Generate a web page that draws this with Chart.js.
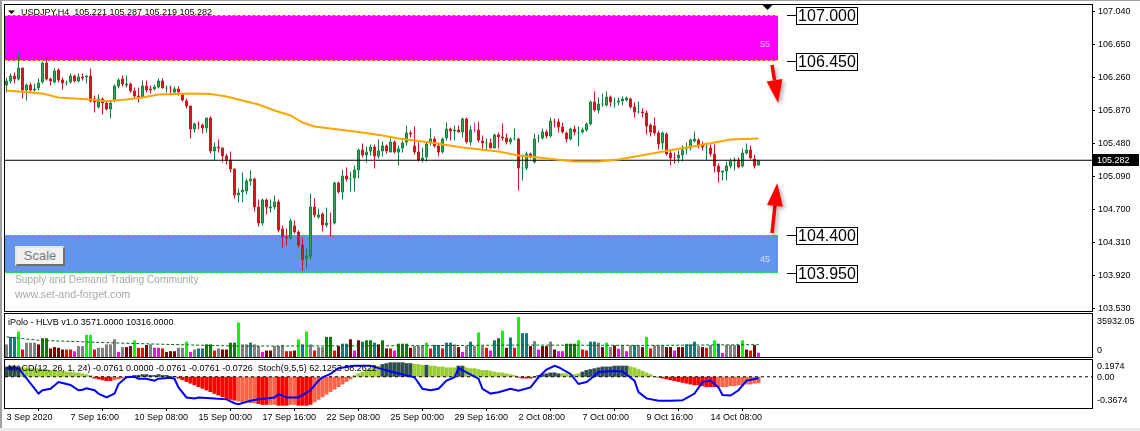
<!DOCTYPE html>
<html>
<head>
<meta charset="utf-8">
<script src="https://cdn.jsdelivr.net/npm/chart.js@4.4.1/dist/chart.umd.min.js"></script>
<style>
html,body{margin:0;padding:0;background:#fff;}
body{width:1140px;height:431px;overflow:hidden;position:relative;font-family:"Liberation Sans",Arial,sans-serif;}
canvas{position:absolute;left:0;display:block;}
#frameLeft{position:absolute;left:0;top:0;width:2px;height:431px;background:#a0a0a0;}
#frameTop{position:absolute;left:0;top:0;width:1140px;height:1px;background:#a0a0a0;}
#frameBottom{position:absolute;left:0;top:428px;width:1140px;height:3px;background:#ececec;}
#scaleBtn{position:absolute;left:15px;top:246px;width:46px;height:16px;background:#f0f0f0;border:2px solid;border-color:#e6e6e6 #6e6e6e #6e6e6e #e6e6e6;color:#7a7a7a;font-size:13px;line-height:16px;text-align:center;}
.wm{position:absolute;left:15px;color:#a8a8a8;white-space:nowrap;line-height:12px;}
</style>
</head>
<body>
<canvas id="cMain" width="1140" height="312" style="top:0"></canvas>
<canvas id="cVol" width="1140" height="46" style="top:312px"></canvas>
<canvas id="cMacd" width="1140" height="73" style="top:358px"></canvas>
<div id="frameLeft"></div><div id="frameTop"></div><div id="frameBottom"></div>
<div id="scaleBtn">Scale</div>
<div class="wm" style="top:274px;font-size:10.2px">Supply and Demand Trading Community</div>
<div class="wm" style="top:288px;font-size:10.7px">www.set-and-forget.com</div>
<script>
// ---------------- DATA ----------------
const symbolName = 'USDJPY,H4';
const opens = [106.165,106.213,106.284,106.236,106.378,106.106,106.177,106.106,106.130,106.201,
106.437,106.248,106.201,106.355,106.236,106.189,106.201,106.284,106.213,106.272,
106.260,106.284,106.012,105.905,106.012,105.965,105.882,105.988,106.154,106.248,
106.165,106.189,106.106,106.047,106.024,106.165,106.130,106.118,106.142,106.225,
106.130,106.142,106.083,106.130,106.059,105.988,105.929,105.645,105.716,105.705,
105.657,105.787,105.385,105.445,105.433,105.338,105.291,105.185,104.865,104.901,
104.913,105.031,105.066,104.735,104.535,104.818,104.712,104.724,104.795,104.476,
104.381,104.357,104.511,104.440,104.286,104.121,104.145,104.735,104.605,104.653,
104.511,104.546,104.535,105.019,104.901,105.102,105.054,105.066,105.161,105.409,
105.338,105.385,105.445,105.326,105.385,105.456,105.374,105.504,105.374,105.421,
105.492,105.610,105.456,105.385,105.279,105.315,105.480,105.539,105.456,105.374,
105.539,105.657,105.622,105.645,105.610,105.775,105.492,105.634,105.645,105.515,
105.480,105.492,105.421,105.586,105.563,105.551,105.492,105.527,105.539,105.185,
105.185,105.362,105.255,105.539,105.539,105.622,105.563,105.740,105.740,105.681,
105.610,105.527,105.657,105.598,105.610,105.634,105.705,105.976,105.870,105.941,
105.929,106.035,105.953,105.965,105.976,105.988,106.012,105.917,105.846,105.858,
105.846,105.705,105.693,105.610,105.480,105.598,105.374,105.315,105.303,105.338,
105.409,105.421,105.504,105.527,105.468,105.433,105.433,105.362,105.220,105.137,
105.149,105.208,105.267,105.291,105.208,105.362,105.409,105.303,105.221];
const highs = [106.260,106.307,106.319,106.544,106.378,106.189,106.201,106.189,106.248,106.449,
106.496,106.260,106.366,106.366,106.260,106.225,106.307,106.295,106.307,106.307,
106.284,106.366,106.047,106.059,106.024,105.988,105.988,106.177,106.248,106.284,
106.284,106.201,106.142,106.142,106.225,106.225,106.165,106.177,106.248,106.248,
106.165,106.165,106.154,106.154,106.071,106.012,105.929,105.728,105.740,105.716,
105.787,105.799,105.492,105.527,105.433,105.362,105.385,105.185,104.948,105.137,
105.066,105.161,105.078,104.818,104.830,104.830,104.818,104.865,104.818,104.511,
104.476,104.594,104.570,104.452,104.369,104.239,104.889,104.830,104.712,104.665,
104.724,104.665,105.031,105.031,105.173,105.196,105.149,105.220,105.421,105.480,
105.445,105.468,105.468,105.527,105.504,105.468,105.539,105.515,105.456,105.515,
105.693,105.634,105.681,105.492,105.433,105.492,105.657,105.563,105.492,105.551,
105.728,105.669,105.693,105.693,105.787,105.787,105.693,105.728,105.740,105.575,
105.539,105.539,105.598,105.610,105.716,105.598,105.551,105.657,105.551,105.350,
105.385,105.374,105.598,105.586,105.657,105.645,105.787,105.775,105.775,105.728,
105.622,105.669,105.693,105.681,105.669,105.728,105.988,106.095,106.024,106.071,
106.095,106.047,106.024,106.024,106.035,106.035,106.024,105.965,105.976,105.894,
105.870,105.716,105.787,105.634,105.622,105.610,105.397,105.374,105.397,105.456,
105.492,105.539,105.622,105.539,105.504,105.492,105.468,105.468,105.244,105.161,
105.267,105.303,105.315,105.315,105.421,105.480,105.456,105.350,105.287];
const lows = [106.083,106.189,106.189,106.225,106.012,105.988,106.095,106.095,106.106,106.189,
106.225,106.165,106.189,106.201,106.118,106.165,106.189,106.201,106.201,106.225,
106.189,105.965,105.846,105.894,105.823,105.870,105.775,105.965,106.130,106.154,
106.142,106.083,106.012,105.965,106.012,106.083,106.071,106.106,106.130,106.130,
106.083,106.071,106.071,106.047,105.976,105.894,105.539,105.610,105.645,105.598,
105.610,105.362,105.279,105.374,105.255,105.232,105.137,104.830,104.783,104.783,
104.877,104.984,104.676,104.499,104.511,104.641,104.665,104.700,104.428,104.251,
104.275,104.345,104.416,104.251,103.979,104.003,104.109,104.605,104.594,104.440,
104.487,104.381,104.523,104.889,104.818,105.031,104.913,104.913,105.066,105.315,
105.255,105.338,105.185,105.303,105.326,105.362,105.374,105.362,105.220,105.374,
105.456,105.551,105.350,105.267,105.255,105.267,105.456,105.433,105.326,105.362,
105.515,105.515,105.515,105.610,105.551,105.480,105.456,105.610,105.492,105.421,
105.409,105.421,105.421,105.421,105.515,105.468,105.468,105.515,104.925,105.043,
105.161,105.303,105.244,105.492,105.527,105.539,105.551,105.669,105.610,105.598,
105.492,105.515,105.575,105.445,105.598,105.622,105.693,105.858,105.835,105.917,
105.917,105.917,105.905,105.929,105.929,105.976,105.894,105.787,105.835,105.787,
105.586,105.563,105.575,105.409,105.409,105.338,105.220,105.244,105.255,105.267,
105.350,105.397,105.492,105.421,105.397,105.279,105.326,105.137,105.019,105.043,
105.043,105.185,105.161,105.185,105.196,105.350,105.291,105.185,105.219];
const closes = [106.225,106.284,106.236,106.378,106.106,106.177,106.106,106.130,106.201,106.437,
106.236,106.213,106.343,106.225,106.189,106.201,106.284,106.213,106.272,106.248,
106.284,105.976,105.965,106.012,105.953,105.882,105.965,106.165,106.236,106.177,
106.189,106.095,106.035,106.024,106.165,106.106,106.106,106.154,106.225,106.130,
106.142,106.130,106.130,106.083,105.988,105.917,105.645,105.716,105.705,105.657,
105.787,105.385,105.445,105.421,105.326,105.279,105.173,104.865,104.901,104.936,
105.043,105.066,104.724,104.535,104.818,104.724,104.735,104.795,104.452,104.369,
104.357,104.570,104.428,104.275,104.097,104.156,104.735,104.629,104.641,104.511,
104.546,104.535,105.019,104.901,105.102,105.054,105.066,105.173,105.409,105.338,
105.385,105.445,105.326,105.397,105.456,105.385,105.504,105.374,105.421,105.492,
105.610,105.586,105.374,105.279,105.315,105.480,105.539,105.445,105.374,105.539,
105.657,105.622,105.645,105.610,105.775,105.492,105.645,105.634,105.515,105.480,
105.492,105.421,105.586,105.551,105.539,105.492,105.539,105.539,105.185,105.196,
105.362,105.326,105.539,105.551,105.622,105.563,105.752,105.728,105.669,105.610,
105.527,105.657,105.610,105.610,105.645,105.716,105.976,105.870,105.953,105.953,
106.035,105.965,105.965,105.988,106.012,106.024,105.905,105.846,105.858,105.835,
105.681,105.610,105.598,105.468,105.610,105.350,105.303,105.303,105.350,105.409,
105.421,105.527,105.539,105.456,105.433,105.445,105.350,105.208,105.137,105.161,
105.220,105.279,105.291,105.196,105.374,105.409,105.303,105.208,105.282];

// moving average (read at sample bars)
const maBars = [0,9,13,21,25,30,34,38,46,51,55,58,63,67,71,74,77,81,85,89,94,98,106,114,123,128,133,142,148,153,160,167,173,177,181,188];
const maValues = [106.106,106.071,106.024,106.000,105.980,106.000,106.024,106.059,106.071,106.065,106.035,106.000,105.941,105.870,105.811,105.728,105.681,105.657,105.634,105.610,105.575,105.539,105.492,105.433,105.385,105.338,105.315,105.267,105.267,105.291,105.350,105.409,105.456,105.492,105.527,105.539];

// price axis ticks
const priceTicks = [107.040,106.650,106.260,105.870,105.480,105.090,104.700,104.310,103.920,103.530];

// time axis
const timeLabelBars = [0,16,32,48,64,80,96,112,128,144,160,176];
const timeLabels = ['3 Sep 2020','7 Sep 16:00','10 Sep 08:00','15 Sep 00:00','17 Sep 16:00','22 Sep 08:00','25 Sep 00:00','29 Sep 16:00','2 Oct 08:00','7 Oct 00:00','9 Oct 16:00','14 Oct 08:00'];

// supply / demand zones and levels
const zoneTops = [107.000, 104.400];
const zoneBottoms = [106.450, 103.950];
const zoneLabels = ['55', '45'];
const zoneEndBar = 192.75;
const levelPrices = [107.000, 106.450, 104.400, 103.950];
const arrowFromBar = [191.4, 191.4];
const arrowFromPrice = [106.408, 104.423];
const arrowToBar = [192.9, 192.7];
const arrowToPrice = [105.959, 105.013];
const shiftBar = 190;

// volume (iPolo HLVB)
const volumes = [10545,16815,16815,21375,6270,11970,11970,11970,10545,15675,
15675,7125,8265,7695,6270,6270,6270,4845,9120,9120,
18525,18525,6270,7695,7695,10545,10545,14820,4275,8265,
8265,9120,13965,7695,7695,9975,10545,7695,7695,7125,
4275,4845,4845,7695,7695,12825,4275,6270,7125,7125,
10545,10545,5415,7125,6270,6270,11970,11970,28785,10545,
10545,11970,10545,9120,4275,5415,5415,9120,9120,9975,
4845,4845,5415,14820,10545,21375,10545,5415,8265,8265,
16815,16815,5415,9120,11115,11115,14820,5415,13965,12825,
13965,13965,11970,10545,13965,7125,7125,5415,11115,11115,
11115,7695,9120,9120,9120,11970,7125,9975,9975,7125,
11970,11970,10545,8265,4275,9120,12825,9120,20520,9120,
7695,5415,13965,15675,21945,7695,16245,7695,33345,19950,
19950,9120,13395,6270,9120,9120,12825,6270,4845,4845,
11115,11115,11115,13965,6270,5415,12825,12825,11970,8265,
11970,8265,9690,6840,9975,4845,9690,9975,9690,8265,
16815,7125,9690,9690,9690,8265,8265,5415,8265,8265,
10545,10545,12825,9120,8265,7695,9975,13965,11115,3420,
9975,9975,9975,9975,13965,6270,5415,9975,3571];
const volumeClass = ['gy','tl','tl','lm','rd','gy','gy','gy','dr','gn',
'gn','dr','dr','dr','dr','rd','rd','mg','gy','gy',
'lm','lm','rd','gy','gy','gy','gy','gy','mg','gy',
'dr','dr','lm','rd','rd','dr','gy','mg','mg','rd',
'dr','dr','dr','gy','gy','lm','mg','gy','tl','tl',
'gn','gn','rd','gy','dr','dr','gn','gn','lm','gy',
'gy','tl','gy','gy','mg','dr','dr','gy','gy','gy',
'rd','rd','dr','lm','tl','lm','gy','rd','gy','gy',
'gn','gn','rd','dr','tl','tl','dr','mg','dr','tl',
'gn','gn','tl','dr','gn','dr','rd','mg','gn','gn',
'gn','dr','gy','gy','gy','lm','rd','tl','tl','rd',
'tl','tl','gy','dr','mg','gy','tl','gy','lm','gy',
'rd','mg','tl','gn','lm','dr','tl','rd','lm','tl',
'tl','dr','gy','mg','dr','dr','gy','dr','mg','mg',
'gn','gn','gn','lm','rd','rd','tl','tl','gy','dr',
'lm','gy','dr','mg','gy','mg','gy','tl','gy','dr',
'lm','rd','gy','gy','gy','dr','dr','mg','dr','dr',
'tl','tl','tl','gy','dr','rd','gy','lm','tl','mg',
'gy','gy','gy','dr','lm','dr','rd','dr','mg'];
const volumeMax = 35932.05;
const volAvgBars = [0,8,25,40,58,98,130,160,188];
const volAvgValues = [16815,13965,11970,10545,9120,9405,9975,9690,10316];

// MACD histogram + Stoch
const macdHist = [0.12,0.13,0.13,0.12,
0.11,0.11,0.10,0.10,0.10,0.09,0.09,0.08,0.08,
0.07,0.07,0.06,0.06,0.05,0.05,0.04,0.03,0.02,
-0.02,-0.03,-0.04,-0.05,-0.05,
-0.04,-0.03,-0.02,-0.01,
0.01,0.02,0.02,0.03,0.03,0.02,0.02,0.03,0.02,0.02,0.01,0.01,
-0.02,-0.04,-0.06,-0.08,-0.10,-0.12,-0.14,-0.16,-0.18,-0.20,-0.22,-0.24,-0.26,-0.27,-0.28,
-0.29,-0.30,-0.30,-0.31,-0.31,
-0.32,-0.33,-0.33,
-0.33,-0.33,
-0.34,-0.34,-0.34,
-0.33,-0.33,
-0.34,-0.34,-0.34,-0.33,
-0.30,-0.27,-0.24,-0.21,-0.18,-0.15,-0.12,-0.09,-0.06,-0.03,
0.02,0.04,0.06,0.08,0.10,0.12,0.13,
0.15,0.16,0.17,0.17,0.17,0.17,0.16,0.16,
0.15,0.15,0.14,
0.14,
0.13,0.13,0.12,0.12,0.11,0.11,0.11,
0.13,0.13,
0.11,0.10,0.10,0.09,0.08,0.08,0.07,0.06,0.05,0.05,0.04,0.03,0.02,
-0.01,-0.02,-0.02,-0.02,-0.01,
0.02,0.03,0.04,0.05,0.05,0.04,
0.04,0.04,0.03,0.03,0.04,
0.06,0.08,0.09,0.10,0.11,0.12,0.12,0.12,0.13,0.13,0.13,0.13,
0.12,0.11,0.09,0.07,0.05,0.03,0.01,
-0.01,-0.02,-0.03,-0.04,-0.05,-0.06,-0.07,-0.08,-0.09,-0.10,-0.10,-0.11,-0.12,-0.12,-0.12,
-0.12,-0.12,-0.12,-0.11,-0.11,-0.10,-0.10,-0.09,-0.09,-0.08,-0.0761];
const macdClassRuns = [['ds',4],['yg',18],['rd',5],['tm',4],['ds',12],['rd',15],['tm',5],['rd',3],['tm',2],['rd',3],['tm',2],['rd',4],['tm',10],['yg',7],['ds',8],['yg',3],['ds',1],['yg',7],['ds',2],['yg',13],['rd',5],['ds',6],['yg',5],['ds',12],['yg',7],['rd',15],['tm',11]];
const macdMax = 0.1974, macdMin = -0.3674;
const stochBars = [0,3,8,9,11,13,14,16,18,19,20,22,23,25,27,28,30,32,33,35,37,38,41,42,43,45,47,48,52,55,57,58,61,63,65,67,68,70,73,76,78,79,81,83,87,91,93,96,102,104,106,108,110,112,113,115,118,119,121,123,126,128,131,133,135,137,138,141,143,145,147,148,152,154,157,158,160,163,166,169,172,174,176,178,179,181,183,185,188];
const stochValues = [83,83,30,37,40,54,52,48,37,38,41,37,30,22,30,50,64,65,61,61,57,61,63,61,43,22,20,22,20,18,10,8,15,18,20,22,29,22,22,37,57,64,71,83,88,88,83,76,64,40,37,40,57,64,83,74,61,40,30,33,40,36,43,64,80,88,85,71,50,54,67,75,77,76,57,33,20,15,15,16,30,54,57,43,27,26,37,57,62];
const macdHeader = 'MACD(12, 26, 1, 24) -0.0761 0.0000 -0.0761 -0.0761 -0.0726  Stoch(9,5,5) 62.1253 58.2622';
const volHeaderName = 'iPolo - HLVB v1.0';

// ---------------- STYLE ----------------
const FONT = '"Liberation Sans", Arial, sans-serif';
const X_MIN = -0.375, X_MAX = 271.375, AXIS_W = 48;
const P_MAX = 107.117, P_MIN = 103.5006;
const volPalette = {gy:'#808080', tl:'#008080', lm:'#00FF00', gn:'#008000', dr:'#800000', rd:'#FF0000', mg:'#FF00FF'};
const macdPalette = {ds:'#2F4F4F', yg:'#9ACD32', rd:'#FF0000', tm:'#FF6347'};
const zoneFills = ['#FF00FF', '#6495ED'];
const zoneEdges = ['#FFD700', '#00FF00'];
const BULL = '#32A85A', BULL_EDGE = '#12803A', BEAR = '#D2161E', DOJI = '#FF3399';

const n = closes.length;
const lastClose = closes[n - 1];
function kind(i){ return closes[i] > opens[i] ? 'up' : (closes[i] < opens[i] ? 'dn' : 'dj'); }
const macdClass = [];
macdClassRuns.forEach(([k, c]) => { for (let j = 0; j < c; j++) macdClass.push(k); });

Chart.defaults.font.family = FONT;

function borderRect(chart){
  const {ctx, chartArea:a} = chart;
  ctx.save(); ctx.strokeStyle = '#000'; ctx.lineWidth = 1;
  ctx.strokeRect(a.left - 0.5, a.top - 0.5, a.right - a.left + 1, a.bottom - a.top + 1);
  ctx.restore();
}
function yAxisFit(s){ s.width = AXIS_W; s.paddingTop = 0; s.paddingBottom = 0; }
function drawArrow(ctx, x1, y1, x2, y2){
  const ang = Math.atan2(y2 - y1, x2 - x1), hl = 23, hw = 8;
  const bx = x2 - hl * Math.cos(ang), by = y2 - hl * Math.sin(ang);
  ctx.save();
  ctx.shadowColor = 'rgba(0,0,0,0.35)'; ctx.shadowBlur = 4; ctx.shadowOffsetX = 2; ctx.shadowOffsetY = 2;
  ctx.strokeStyle = '#FF0000'; ctx.lineWidth = 3.5;
  ctx.beginPath(); ctx.moveTo(x1, y1); ctx.lineTo(bx, by); ctx.stroke();
  ctx.fillStyle = '#FF0000';
  ctx.beginPath(); ctx.moveTo(x2, y2);
  ctx.lineTo(bx + hw * Math.sin(ang), by - hw * Math.cos(ang));
  ctx.lineTo(bx - hw * Math.sin(ang), by + hw * Math.cos(ang));
  ctx.closePath(); ctx.fill();
  ctx.restore();
}

// ---------------- MAIN PRICE PANEL ----------------
const mainDecor = {
  id: 'mainDecor',
  beforeDatasetsDraw(chart){
    const {ctx, chartArea:a, scales:{x, y}} = chart;
    const xr = Math.round(x.getPixelForValue(zoneEndBar));
    ctx.save();
    for (let k = 0; k < zoneTops.length; k++){
      const yt = Math.round(y.getPixelForValue(zoneTops[k]));
      const yb = Math.round(y.getPixelForValue(zoneBottoms[k]));
      ctx.fillStyle = zoneFills[k];
      ctx.fillRect(a.left, yt, xr - a.left, yb - yt);
      ctx.strokeStyle = zoneEdges[k]; ctx.lineWidth = 1; ctx.setLineDash([3, 2]);
      ctx.beginPath();
      ctx.moveTo(a.left, yt + 0.5); ctx.lineTo(xr, yt + 0.5);
      ctx.moveTo(a.left, yb - 0.5); ctx.lineTo(xr, yb - 0.5);
      ctx.stroke(); ctx.setLineDash([]);
      ctx.fillStyle = 'rgba(255,255,255,0.72)'; ctx.font = '9px ' + FONT;
      ctx.textAlign = 'right'; ctx.textBaseline = 'middle';
      ctx.fillText(zoneLabels[k], xr - 8, yt + (yb - yt) * 0.65);
    }
    ctx.restore();
  },
  afterDraw(chart){
    const {ctx, chartArea:a, scales:{x, y}} = chart;
    borderRect(chart);
    ctx.save();
    // header
    ctx.fillStyle = '#000';
    ctx.beginPath(); ctx.moveTo(a.left + 3, a.top + 5.5); ctx.lineTo(a.left + 10, a.top + 5.5); ctx.lineTo(a.left + 6.5, a.top + 9); ctx.closePath(); ctx.fill();
    ctx.font = '9px ' + FONT; ctx.textAlign = 'left'; ctx.textBaseline = 'middle';
    ctx.fillText(symbolName + '  ' + opens[n-1].toFixed(3) + ' ' + highs[n-1].toFixed(3) + ' ' + lows[n-1].toFixed(3) + ' ' + closes[n-1].toFixed(3), a.left + 16, a.top + 7.5);
    // chart shift marker
    const xs = Math.round(x.getPixelForValue(shiftBar)) + 0.5;
    ctx.beginPath(); ctx.moveTo(xs - 5, a.top); ctx.lineTo(xs + 5, a.top); ctx.lineTo(xs, a.top + 5); ctx.closePath(); ctx.fill();
    // level labels
    const xr = Math.round(x.getPixelForValue(zoneEndBar));
    levelPrices.forEach(p => {
      const yy = Math.round(y.getPixelForValue(p)) + 0.5;
      ctx.strokeStyle = '#000'; ctx.lineWidth = 1;
      ctx.beginPath(); ctx.moveTo(xr + 9, yy); ctx.lineTo(xr + 19, yy); ctx.stroke();
      const bx = xr + 18.5, bw = 61, bh = 17;
      ctx.fillStyle = '#fff'; ctx.fillRect(bx, yy - 8, bw, bh);
      ctx.strokeRect(bx, yy - 8, bw, bh);
      ctx.fillStyle = '#000'; ctx.font = '16px ' + FONT; ctx.textAlign = 'center'; ctx.textBaseline = 'middle';
      ctx.fillText(p.toFixed(3), bx + bw / 2, yy + 1);
    });
    // arrows
    for (let k = 0; k < arrowFromBar.length; k++){
      drawArrow(ctx, x.getPixelForValue(arrowFromBar[k]), y.getPixelForValue(arrowFromPrice[k]),
                x.getPixelForValue(arrowToBar[k]), y.getPixelForValue(arrowToPrice[k]));
    }
    // current price label on axis
    const yc = Math.round(y.getPixelForValue(lastClose));
    ctx.fillStyle = '#000'; ctx.fillRect(a.right + 1, yc - 6, 46, 12);
    ctx.fillStyle = '#fff'; ctx.font = '9px ' + FONT; ctx.textAlign = 'left'; ctx.textBaseline = 'middle';
    ctx.fillText(lastClose.toFixed(3), a.right + 5, yc + 0.5);
    ctx.restore();
  }
};

new Chart(document.getElementById('cMain'), {
  type: 'bar',
  data: {
    datasets: [
      {type:'line', label:'MA', data: maBars.map((b, i) => ({x:b, y:maValues[i]})), borderColor:'#FFA500', borderWidth:2, pointRadius:0, fill:false, tension:0, order:0},
      {type:'line', label:'Bid', data: [{x:X_MIN, y:lastClose}, {x:X_MAX, y:lastClose}], borderColor:'#000', borderWidth:1, pointRadius:0, fill:false, order:1},
      {type:'bar', label:'Body', data: opens.map((o, i) => ({x:i, y:[o, closes[i]]})),
        backgroundColor: c => { const k = kind(c.dataIndex); return k === 'up' ? BULL : (k === 'dn' ? BEAR : DOJI); },
        borderColor: c => { const k = kind(c.dataIndex); return k === 'up' ? BULL_EDGE : (k === 'dn' ? BEAR : DOJI); },
        borderWidth:1, borderSkipped:false, barThickness:3, minBarLength:1, grouped:false, inflateAmount:0, order:2},
      {type:'bar', label:'Wick', data: highs.map((h, i) => ({x:i, y:[lows[i], h]})),
        backgroundColor: c => { const k = kind(c.dataIndex); return k === 'up' ? BULL_EDGE : (k === 'dn' ? BEAR : DOJI); },
        borderWidth:0, barThickness:1, grouped:false, inflateAmount:0, order:3}
    ]
  },
  options: {
    responsive:false, maintainAspectRatio:false, animation:false, devicePixelRatio:1,
    layout:{padding:{left:5, top:5, right:0, bottom:1}},
    plugins:{legend:{display:false}, tooltip:{enabled:false}},
    scales:{
      x:{type:'linear', min:X_MIN, max:X_MAX, offset:false, display:false},
      y:{position:'right', min:P_MIN, max:P_MAX, afterFit:yAxisFit,
         afterBuildTicks: s => { s.ticks = priceTicks.map(v => ({value:v})); },
         ticks:{callback: v => Number(v).toFixed(3), font:{size:9, family:FONT}, color:'#000', padding:3, autoSkip:false},
         grid:{drawOnChartArea:false, color:'#000', tickLength:3}, border:{display:false}}
    }
  },
  plugins:[mainDecor]
});

// ---------------- VOLUME PANEL ----------------
const volDecor = {
  id:'volDecor',
  afterDraw(chart){
    const {ctx, chartArea:a} = chart;
    borderRect(chart);
    ctx.save();
    ctx.fillStyle = '#000'; ctx.font = '9px ' + FONT; ctx.textAlign = 'left'; ctx.textBaseline = 'middle';
    ctx.fillText(volHeaderName + ' ' + volumes[n-1].toFixed(4) + ' ' + volAvgValues[volAvgValues.length-1].toFixed(4), a.left + 3, a.top + 9);
    ctx.fillText(volumeMax.toFixed(2), a.right + 5, a.top + 8);
    ctx.fillText('0', a.right + 5, a.bottom - 6);
    ctx.restore();
  }
};
new Chart(document.getElementById('cVol'), {
  type:'bar',
  data:{
    datasets:[
      {type:'line', data: volAvgBars.map((b, i) => ({x:b, y:volAvgValues[i]})), borderColor:'#006400', borderWidth:1, borderDash:[3,2], pointRadius:0, fill:false, order:0},
      {type:'bar', data: volumes.map((v, i) => ({x:i, y:v})), backgroundColor: volumeClass.map(k => volPalette[k]), borderWidth:0, barThickness:3, grouped:false, inflateAmount:0, order:1}
    ]
  },
  options:{
    responsive:false, maintainAspectRatio:false, animation:false, devicePixelRatio:1,
    layout:{padding:{left:5, top:2, right:0, bottom:1}},
    plugins:{legend:{display:false}, tooltip:{enabled:false}},
    scales:{
      x:{type:'linear', min:X_MIN, max:X_MAX, offset:false, display:false},
      y:{position:'right', min:0, max:volumeMax, afterFit:yAxisFit, ticks:{display:false}, grid:{display:false}, border:{display:false}}
    }
  },
  plugins:[volDecor]
});

// ---------------- MACD / STOCH PANEL ----------------
const macdDecor = {
  id:'macdDecor',
  afterDatasetsDraw(chart){
    const {ctx, chartArea:a} = chart;
    ctx.save();
    ctx.fillStyle = '#000'; ctx.font = '9px ' + FONT; ctx.textAlign = 'left'; ctx.textBaseline = 'middle';
    ctx.fillText(macdHeader, a.left + 3, a.top + 9);
    ctx.restore();
  },
  afterDraw(chart){
    const {ctx, chartArea:a, scales:{y}} = chart;
    borderRect(chart);
    ctx.save();
    ctx.fillStyle = '#000'; ctx.font = '9px ' + FONT; ctx.textAlign = 'left'; ctx.textBaseline = 'middle';
    ctx.fillText(macdMax.toFixed(4), a.right + 5, a.top + 6.5);
    ctx.fillText('0.00', a.right + 5, y.getPixelForValue(0) + 0.5);
    ctx.fillText(macdMin.toFixed(4), a.right + 5, a.bottom - 7);
    ctx.restore();
  }
};
new Chart(document.getElementById('cMacd'), {
  type:'bar',
  data:{
    datasets:[
      {type:'line', data: stochBars.map((b, i) => ({x:b, y:stochValues[i]})), yAxisID:'ys', borderColor:'#0000FF', borderWidth:2, pointRadius:0, fill:false, tension:0, order:0},
      {type:'line', data: [{x:X_MIN, y:0}, {x:X_MAX, y:0}], yAxisID:'y', borderColor:'#000', borderWidth:1, borderDash:[3,3], pointRadius:0, fill:false, order:1},
      {type:'bar', data: macdHist.map((v, i) => ({x:i, y:v})), yAxisID:'y', backgroundColor: macdClass.map(k => macdPalette[k]), borderWidth:0, barThickness:4, grouped:false, inflateAmount:0, order:2}
    ]
  },
  options:{
    responsive:false, maintainAspectRatio:false, animation:false, devicePixelRatio:1,
    layout:{padding:{left:5, top:2, right:0, bottom:0}},
    plugins:{legend:{display:false}, tooltip:{enabled:false}},
    scales:{
      x:{type:'linear', min:X_MIN, max:X_MAX, offset:false, position:'bottom',
         afterBuildTicks: s => { s.ticks = timeLabelBars.map(v => ({value:v})); },
         afterFit: s => { s.height = 23; s.paddingLeft = 0; s.paddingRight = 0; },
         ticks:{callback:(v, i) => timeLabels[i], align:'start', autoSkip:false, maxRotation:0, minRotation:0, font:{size:9, family:FONT}, color:'#000', padding:1},
         grid:{drawOnChartArea:false, color:'#000', tickLength:3}, border:{display:false}},
      y:{position:'right', min:macdMin, max:macdMax, afterFit:yAxisFit, ticks:{display:false}, grid:{display:false}, border:{display:false}},
      ys:{display:false, min:0, max:100}
    }
  },
  plugins:[macdDecor]
});
</script>
</body>
</html>
